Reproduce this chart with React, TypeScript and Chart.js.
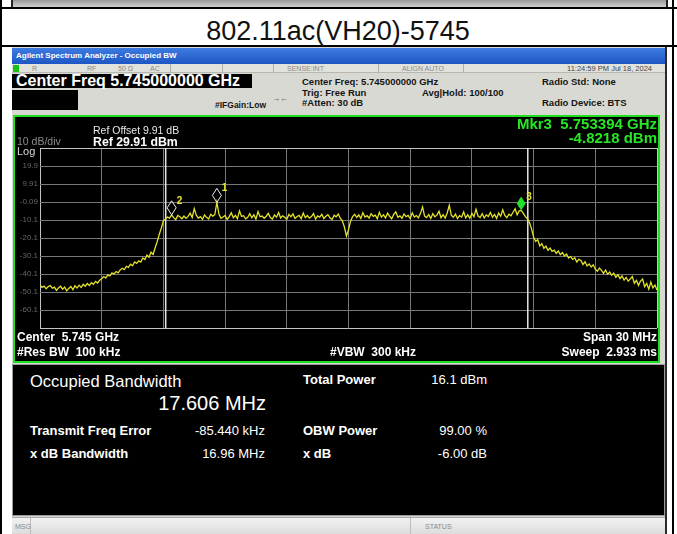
import React, { useEffect, useRef } from "react";
import { Chart, registerables } from "chart.js";

Chart.register(...registerables);

const TITLE = "802.11ac(VH20)-5745";

const FREQ_START_MHZ = 5730;
const FREQ_STOP_MHZ = 5760;
const FREQ_STEP_MHZ = 0.1;

// Trace 1 (dBm), one value every 0.1 MHz from 5730 to 5760 MHz
const TRACE_DBM = [
  // 5730.0 - 5732.9
  -46.2, -47.5, -46.8, -48.3, -47.1, -46.5, -48.0, -47.4, -49.2, -47.8,
  -46.9, -48.5, -47.3, -49.4, -48.1, -47.0, -48.8, -46.6, -47.9, -46.3,
  -47.6, -45.8, -46.9, -45.4, -46.5, -44.9, -45.8, -44.2, -45.1, -43.6,
  // 5733.0 - 5736.0
  -42.8, -41.5, -42.3, -40.6, -41.2, -39.5, -40.1, -38.7, -39.4, -37.8,
  -36.9, -37.6, -35.8, -36.4, -34.6, -35.5, -33.4, -34.2, -32.8, -33.5,
  -31.2, -32.0, -29.6, -30.8, -28.0, -29.2, -25.5, -22.0, -18.0, -14.5,
  -10.4,
  // 5736.1 - 5753.7 (channel)
  -9.6, -8.4, -9.0, -7.2, -8.8, -9.9, -7.6, -8.3, -9.4,
  -7.9, -9.2, -8.1, -6.3, -8.7, -3.8, -7.4, -9.0, -8.2, -9.7,
  -7.3, -8.6, -9.5, -6.9, -8.0, -7.1, -0.3, -6.8, -9.1, -8.4,
  -7.6, -9.8, -8.2, -6.1, -8.9, -7.5, -9.3, -5.0, -8.1, -7.7,
  -9.4, -8.6, -6.6, -8.8, -7.2, -9.6, -5.4, -8.3, -7.9, -9.1,
  -8.0, -6.4, -8.7, -9.5, -7.3, -8.5, -5.9, -9.0, -7.8, -8.6,
  -9.7, -7.0, -8.3, -6.7, -9.2, -8.1, -7.5, -9.4, -6.2, -8.8,
  -7.6, -9.0, -8.2, -6.5, -9.6, -7.8, -8.5, -6.9, -9.3, -8.0,
  -7.1, -8.9, -9.8, -7.4, -8.3, -6.8, -9.1, -10.5, -14.0, -19.0,
  -15.5, -10.8, -8.2, -6.9, -8.7, -7.3, -9.2, -6.0, -8.4, -7.7,
  -9.0, -6.6, -8.1, -7.4, -9.3, -5.8, -8.5, -7.2, -8.9, -6.3,
  -8.0, -9.4, -7.0, -5.5, -8.6, -7.8, -9.1, -6.7, -8.2, -7.5,
  -9.3, -6.1, -8.4, -7.6, -8.9, -6.4, -2.8, -7.9, -8.7, -7.0,
  -9.2, -6.5, -8.3, -7.4, -5.2, -8.8, -7.1, -9.0, -6.2, -1.9,
  -7.5, -8.6, -6.8, -9.3, -7.7, -8.4, -5.6, -8.9, -7.2, -9.1,
  -6.4, -8.2, -4.1, -7.9, -8.7, -6.6, -9.0, -7.3, -8.1, -5.9,
  -8.5, -7.0, -9.2, -6.2, -8.0, -4.4, -7.6, -8.8, -6.9, -7.8,
  -5.8, -3.9, -7.2, -5.0, -4.8, -6.4, -8.2, -9.4,
  // 5753.8 - 5760.0
  -11.5, -15.0, -19.5, -22.0, -21.0, -24.5, -23.2, -25.8, -24.6, -26.9,
  -25.7, -27.5, -26.8, -28.6, -27.3, -29.4, -28.2, -30.1, -29.0, -31.2,
  -30.4, -32.0, -31.1, -33.4, -31.9, -32.6, -34.8, -33.3, -35.6, -34.5,
  -36.2, -35.0, -37.4, -38.6, -36.8, -38.1, -39.7, -37.9, -40.2, -39.0,
  -40.8, -39.6, -41.9, -40.5, -42.6, -41.2, -43.5, -42.0, -44.1, -42.8,
  -41.5, -45.2, -43.6, -46.4, -44.0, -42.9, -47.1, -45.3, -48.5, -44.6,
  -47.8, -46.2, -49.0,
];

const Y_TICKS = [29.91, 19.91, 9.91, -0.09, -10.09, -20.09, -30.09, -40.09, -50.09, -60.09, -70.09];
const Y_TICK_LABELS = ["", "19.9", "9.91", "-0.09", "-10.1", "-20.1", "-30.1", "-40.1", "-50.1", "-60.1", ""];
const X_TICKS = [5730, 5733, 5736, 5739, 5742, 5745, 5748, 5751, 5754, 5757, 5760];

const OBW_EDGES_MHZ = [5736.1116, 5753.7176];

const MARKER_NAMES = ["1", "2", "3"];
const MARKER_FREQS_MHZ = [5738.6, 5736.4, 5753.394];
const MARKER_DBM = [-0.3, -7.2, -4.8218];
const ACTIVE_MARKER = 2;

const FONT = '"Liberation Sans", Arial, sans-serif';

type TxtProps = {
  x: number; y: number; s: number; t: string;
  c?: string; w?: number; a?: "left" | "right" | "center";
};

function Txt({ x, y, s, t, c = "#fff", w = 400, a = "left" }: TxtProps) {
  const style: any = {
    position: "absolute",
    top: y - s / 2,
    fontSize: s,
    lineHeight: `${s}px`,
    color: c,
    fontWeight: w,
    fontFamily: FONT,
    whiteSpace: "pre",
    zIndex: 5,
  };
  if (a === "left") style.left = x;
  else if (a === "right") style.right = 677 - x;
  else { style.left = x; style.transform = "translateX(-50%)"; }
  return <div style={style}>{t}</div>;
}

function Box({ x, y, w, h, bg, extra }: { x: number; y: number; w: number; h: number; bg: string; extra?: any }) {
  return <div style={{ position: "absolute", left: x, top: y, width: w, height: h, background: bg, boxSizing: "border-box", ...(extra || {}) }} />;
}

const overlayPlugin = {
  id: "saOverlay",
  beforeDatasetsDraw(chart: any) {
    const { ctx, chartArea, scales } = chart;
    const x = scales.x;
    ctx.save();
    ctx.strokeStyle = "#e6e6e6";
    ctx.lineWidth = 1.5;
    OBW_EDGES_MHZ.forEach((f) => {
      const px = x.getPixelForValue(f);
      ctx.beginPath();
      ctx.moveTo(px, chartArea.top);
      ctx.lineTo(px, chartArea.bottom);
      ctx.stroke();
    });
    ctx.restore();
  },
  afterDatasetsDraw(chart: any) {
    const { ctx, scales } = chart;
    const x = scales.x;
    const y = scales.y;
    ctx.save();
    MARKER_FREQS_MHZ.forEach((f, i) => {
      const px = x.getPixelForValue(f);
      const py = y.getPixelForValue(MARKER_DBM[i]);
      ctx.beginPath();
      ctx.moveTo(px, py);
      ctx.lineTo(px + 4.5, py - 7);
      ctx.lineTo(px, py - 14);
      ctx.lineTo(px - 4.5, py - 7);
      ctx.closePath();
      if (i === ACTIVE_MARKER) {
        ctx.fillStyle = "#22e02a";
        ctx.fill();
      } else {
        ctx.strokeStyle = "#f0f0f0";
        ctx.lineWidth = 1;
        ctx.stroke();
      }
      ctx.fillStyle = "#e6e62e";
      ctx.font = `bold 10px ${FONT}`;
      ctx.textBaseline = "alphabetic";
      ctx.textAlign = "left";
      ctx.fillText(MARKER_NAMES[i], px + 5, py - 11);
    });
    ctx.restore();
  },
};

function SpectrumChart() {
  const ref = useRef<HTMLCanvasElement | null>(null);
  useEffect(() => {
    if (!ref.current) return;
    const points = TRACE_DBM.map((v, i) => ({ x: FREQ_START_MHZ + i * FREQ_STEP_MHZ, y: v }));
    const chart = new Chart(ref.current, {
      type: "line",
      data: {
        datasets: [
          {
            data: points,
            borderColor: "#e2e22a",
            borderWidth: 1.3,
            pointRadius: 0,
            tension: 0,
            fill: false,
          },
        ],
      },
      options: {
        animation: false,
        responsive: false,
        maintainAspectRatio: false,
        devicePixelRatio: 1,
        events: [],
        layout: { padding: { left: 0, right: 2, top: 31, bottom: 32 } },
        plugins: { legend: { display: false }, tooltip: { enabled: false }, title: { display: false } },
        scales: {
          x: {
            type: "linear",
            min: FREQ_START_MHZ,
            max: FREQ_STOP_MHZ,
            afterBuildTicks: (s: any) => { s.ticks = X_TICKS.map((v) => ({ value: v })); },
            afterFit: (s: any) => { s.height = 0; },
            ticks: { display: false },
            grid: {
              color: (c: any) => (c.index === 0 || c.index === X_TICKS.length - 1 ? "#c4c4c4" : "#777777"),
              lineWidth: 1,
              drawTicks: false,
            },
            border: { display: false },
          },
          y: {
            type: "linear",
            min: Y_TICKS[Y_TICKS.length - 1],
            max: Y_TICKS[0],
            afterBuildTicks: (s: any) => { s.ticks = Y_TICKS.map((v) => ({ value: v })); },
            afterFit: (s: any) => { s.width = 25; },
            ticks: {
              color: "#666666",
              font: { family: FONT, size: 8 },
              padding: 2,
              callback: (_v: any, idx: number) => Y_TICK_LABELS[idx],
            },
            grid: {
              color: (c: any) => (c.index === 0 || c.index === Y_TICKS.length - 1 ? "#c4c4c4" : "#777777"),
              lineWidth: 1,
              drawTicks: false,
            },
            border: { display: false },
          },
        },
      },
      plugins: [overlayPlugin],
    });
    return () => chart.destroy();
  }, []);
  return (
    <canvas
      ref={ref}
      width={644}
      height={243}
      style={{ position: "absolute", left: 15, top: 117, width: 644, height: 243, zIndex: 3 }}
    />
  );
}

export default function App() {
  useEffect(() => {
    document.body.style.margin = "0";
  }, []);
  const dim = "#8a8a8a";
  const dark = "#151515";
  return (
    <div style={{ position: "fixed", left: 0, top: 0, width: 677, height: 534, background: "#fff", overflow: "hidden", fontFamily: FONT }}>
      {/* previous row strip */}
      <Box x={11} y={0} w={657} h={7} bg="linear-gradient(#9a9a9a,#cfcfcf)" extra={{ borderLeft: "2px solid #222", borderRight: "2px solid #222" }} />
      <Box x={0} y={7} w={677} h={2} bg="#000" />
      {/* title row */}
      <Txt x={338} y={31} s={27} t={TITLE} c="#111" a="center" />
      <Box x={0} y={45} w={677} h={2} bg="#000" />
      <Box x={0} y={0} w={2} h={534} bg="#000" />
      <Box x={672} y={0} w={2} h={534} bg="#000" />

      {/* analyzer screenshot frame */}
      <Box x={12} y={47} w={655} h={487} bg="#d9d9d3" extra={{ borderRight: "2px solid #2a2a2a" }} />
      <Box x={12} y={48} w={653} h={16} bg="linear-gradient(#3d7be0,#1d56c4)" />
      <Txt x={16} y={56} s={8} t="Agilent Spectrum Analyzer - Occupied BW" c="#fff" w={700} />
      {/* status row */}
      <Box x={12} y={64} w={653} h={9} bg="#e2e2dc" extra={{ borderBottom: "1px solid #b8b8b2" }} />
      <Box x={13} y={65} w={6} h={7} bg="#18c018" />
      <Txt x={32} y={68.5} s={7} t="R" c={dim} />
      <Txt x={87} y={68.5} s={7} t="RF" c={dim} />
      <Txt x={118} y={68.5} s={7} t="50 Ω" c={dim} />
      <Txt x={150} y={68.5} s={7} t="AC" c={dim} />
      <Box x={170} y={64} w={1} h={9} bg="#b0b0aa" />
      <Box x={222} y={64} w={1} h={9} bg="#b0b0aa" />
      <Box x={273} y={64} w={1} h={9} bg="#b0b0aa" />
      <Txt x={287} y={68.5} s={7} t="SENSE:INT" c={dim} />
      <Box x={378} y={64} w={1} h={9} bg="#b0b0aa" />
      <Txt x={402} y={68.5} s={7} t="ALIGN AUTO" c={dim} />
      <Box x={463} y={64} w={1} h={9} bg="#b0b0aa" />
      <Txt x={652} y={69} s={7.5} t="11:24:59 PM Jul 18, 2024" c="#444" a="right" />

      {/* header info */}
      <Box x={12} y={74} w={240} h={14} bg="#000" />
      <Txt x={16} y={81} s={16} t="Center Freq 5.745000000 GHz" c="#fff" w={700} />
      <Box x={12} y={90} w={66} h={20} bg="#000" />
      <Txt x={215} y={105} s={8.5} t="#IFGain:Low" c={dark} w={700} />
      <Txt x={272} y={99} s={8} t="→←" c="#333" />
      <Txt x={302} y={82} s={9.5} t="Center Freq: 5.745000000 GHz" c={dark} w={700} />
      <Txt x={302} y={93} s={9.5} t="Trig: Free Run" c={dark} w={700} />
      <Txt x={302} y={103} s={9.5} t="#Atten: 30 dB" c={dark} w={700} />
      <Txt x={422} y={93} s={9.5} t="Avg|Hold: 100/100" c={dark} w={700} />
      <Txt x={542} y={82} s={9.5} t="Radio Std: None" c={dark} w={700} />
      <Txt x={542} y={103} s={9.5} t="Radio Device: BTS" c={dark} w={700} />

      {/* trace window */}
      <Box x={13} y={115} w={647} h={248} bg="#000" extra={{ border: "2px solid #1fe01f" }} />
      <Txt x={17} y={141} s={10.5} t="10 dB/div" c={dim} />
      <Txt x={17} y={151} s={11} t="Log" c="#d8d8d8" />
      <Txt x={93} y={130} s={10.5} t="Ref Offset 9.91 dB" c="#e8e8e8" />
      <Txt x={93} y={142} s={12.3} t="Ref 29.91 dBm" c="#fff" w={700} />
      <Txt x={657} y={123} s={15} t="Mkr3  5.753394 GHz" c="#26e626" w={700} a="right" />
      <Txt x={657} y={137} s={15} t="-4.8218 dBm" c="#26e626" w={700} a="right" />
      <SpectrumChart />
      <Txt x={17} y={337} s={12} t="Center  5.745 GHz" c="#fff" w={700} />
      <Txt x={17} y={352} s={12} t="#Res BW  100 kHz" c="#fff" w={700} />
      <Txt x={330} y={352} s={12} t="#VBW  300 kHz" c="#fff" w={700} />
      <Txt x={657} y={337} s={12} t="Span 30 MHz" c="#fff" w={700} a="right" />
      <Txt x={657} y={352} s={12} t="Sweep  2.933 ms" c="#fff" w={700} a="right" />

      {/* result panel */}
      <Box x={12} y={364} w={653} h={152} bg="#000" extra={{ border: "1px solid #9a9a9a" }} />
      <Txt x={30} y={381} s={16.5} t="Occupied Bandwidth" c="#fff" />
      <Txt x={266} y={403} s={20} t="17.606 MHz" c="#fff" a="right" />
      <Txt x={303} y={379} s={13} t="Total Power" c="#fff" w={700} />
      <Txt x={487} y={379} s={13} t="16.1 dBm" c="#fff" a="right" />
      <Txt x={30} y={430} s={13} t="Transmit Freq Error" c="#fff" w={700} />
      <Txt x={265} y={430} s={13} t="-85.440 kHz" c="#fff" a="right" />
      <Txt x={303} y={430} s={13} t="OBW Power" c="#fff" w={700} />
      <Txt x={487} y={430} s={13} t="99.00 %" c="#fff" a="right" />
      <Txt x={30} y={453} s={13} t="x dB Bandwidth" c="#fff" w={700} />
      <Txt x={265} y={453} s={13} t="16.96 MHz" c="#fff" a="right" />
      <Txt x={303} y={453} s={13} t="x dB" c="#fff" w={700} />
      <Txt x={487} y={453} s={13} t="-6.00 dB" c="#fff" a="right" />

      {/* bottom status bar */}
      <Box x={12} y={517} w={653} h={17} bg="linear-gradient(#f2f2f2,#dcdcdc)" extra={{ borderTop: "1px solid #a8a8a8" }} />
      <Box x={30} y={518} w={1} h={16} bg="#bbb" />
      <Txt x={15} y={526} s={7} t="MSG" c={dim} />
      <Box x={410} y={518} w={1} h={16} bg="#bbb" />
      <Txt x={425} y={526} s={7} t="STATUS" c={dim} />
    </div>
  );
}
